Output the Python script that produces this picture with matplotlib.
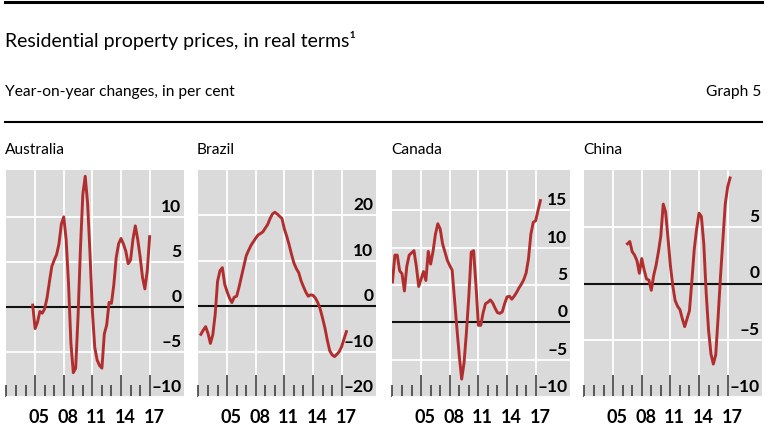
import numpy as np
import matplotlib
matplotlib.use("Agg")
import matplotlib.pyplot as plt
from matplotlib.lines import Line2D

plt.rcParams['font.family'] = ['Lato', 'DejaVu Sans']

# quarterly data, year-on-year changes in per cent
aus_start = 2004.75
aus = [0.2, -2.4, -1.7, -0.5, -0.7, -0.2, 1.0, 2.8, 4.5, 5.2, 5.8, 7.0, 9.2,
       10.0, 7.5, 2.6, -4.0, -7.3, -6.8, -1.0, 6.5, 12.5, 14.5, 11.5, 6.0,
       -0.5, -4.5, -5.9, -6.5, -6.8, -3.0, -2.0, 0.5, 0.4, 2.5, 5.5, 7.0, 7.6,
       7.0, 6.2, 4.8, 5.2, 7.5, 9.0, 7.5, 5.6, 3.3, 2.0, 4.0, 7.8]

bra_start = 2002.25
bra = [-6.2, -5.3, -4.5, -6.0, -8.2, -6.3, -1.8, 5.5, 7.8, 8.5, 4.8, 3.2,
       1.8, 0.8, 2.0, 2.2, 4.2, 6.5, 8.8, 11.1, 12.3, 13.4, 14.2, 15.0, 15.7,
       16.0, 16.4, 17.2, 18.0, 19.3, 20.3, 20.7, 20.3, 19.8, 19.3, 17.0, 15.4,
       13.5, 11.4, 9.5, 8.3, 7.4, 5.6, 4.3, 3.1, 2.2, 2.5, 2.4, 1.8, 0.8, -0.6,
       -2.6, -4.8, -7.5, -9.8, -10.7, -11.1, -10.6, -10.0, -8.9, -7.2, -5.6]

can_start = 2002.0
can = [5.4, 9.0, 9.0, 6.9, 6.5, 4.2, 7.5, 9.0, 9.3, 9.6, 7.5, 4.8, 5.8, 6.8,
       5.6, 9.5, 7.8, 9.5, 11.8, 13.2, 12.5, 10.5, 9.4, 8.3, 7.6, 7.0, 3.1,
       -0.8, -4.5, -7.6, -5.4, -1.3, 3.5, 9.4, 9.6, 4.9, -0.4, -0.4, 1.3, 2.5,
       2.7, 3.0, 2.6, 1.9, 1.3, 1.2, 1.4, 2.5, 3.4, 3.5, 3.1, 3.5, 4.0, 4.6,
       5.1, 5.7, 6.6, 8.5, 11.8, 13.4, 13.6, 15.0, 16.3]

chn_start = 2006.5
chn = [3.5, 3.7, 2.8, 2.5, 2.0, 0.9, 2.2, 1.2, 0.4, 0.3, -0.6, 0.7, 1.6, 2.8,
       4.2, 7.0, 6.3, 4.0, 1.6, -0.2, -1.5, -2.0, -2.3, -3.1, -3.8, -3.1, -2.4,
       0.2, 3.0, 4.8, 6.2, 5.9, 3.5, -0.8, -4.1, -6.2, -7.1, -6.3, -3.0, 0.6,
       3.8, 7.0, 8.5, 9.3]

panels = [
    ("Australia", aus_start, aus, [-10, -5, 0, 5, 10], ["–10", "–5", "0", "5", "10"], (-10, 15.2)),
    ("Brazil", bra_start, bra, [-20, -10, 0, 10, 20], ["–20", "–10", "0", "10", "20"], (-20, 30)),
    ("Canada", can_start, can, [-10, -5, 0, 5, 10, 15], ["–10", "–5", "0", "5", "10", "15"], (-10, 20.4)),
    ("China", chn_start, chn, [-10, -5, 0, 5], ["–10", "–5", "0", "5"], (-10, 10)),
]
year_labels = ["05", "08", "11", "14", "17"]
major_years = [2005, 2008, 2011, 2014, 2017]
minor_years = [y for y in range(2002, 2018) if y not in major_years]

red = '#b22e2e'
grey = '#dadada'

fig = plt.figure(figsize=(7.68, 4.32), dpi=100)

# header rules and titles
fig.add_artist(Line2D([0.0065, 0.992], [0.995, 0.995], color='black', lw=2.2))
fig.add_artist(Line2D([0.0065, 0.992], [0.718, 0.718], color='black', lw=1.5))
fig.text(0.0065, 0.907, "Residential property prices, in real terms¹", fontsize=14, va='center')
fig.text(0.0065, 0.787, "Year-on-year changes, in per cent", fontsize=11.2, va='center')
fig.text(0.992, 0.787, "Graph 5", fontsize=11.2, va='center', ha='right')

lefts = [6, 198, 392, 584]
for (name, start, vals, yt, ytl, ylim), left in zip(panels, lefts):
    ax = fig.add_axes([left / 768, 1 - 397 / 432, 178 / 768, 227 / 432])
    ax.set_facecolor(grey)
    for s in ax.spines.values():
        s.set_visible(False)
    x = start + 0.25 * np.arange(len(vals))
    ax.set_xlim(2001.95, 2020.6)
    ax.set_ylim(*ylim)
    ax.set_yticks(yt)
    ax.set_yticklabels([])
    ax.tick_params(axis='y', length=0)
    ax.set_xticks(major_years)
    ax.set_xticks(minor_years, minor=True)
    ax.set_xticklabels([])
    ax.tick_params(axis='x', which='major', direction='in', length=16, width=1.1, color='#333333')
    ax.tick_params(axis='x', which='minor', direction='in', length=8.5, width=1.1, color='#333333')
    ax.grid(True, which='major', color='white', lw=1.3)
    ax.set_axisbelow(True)
    ax.axhline(0, color='#111111', lw=1.5, zorder=2)
    ax.plot(x, vals, color=red, lw=2.1, zorder=3, solid_joinstyle='round')
    for v, lbl in zip(yt, ytl):
        ax.annotate(lbl, xy=(1, v), xycoords=('axes fraction', 'data'),
                    xytext=(-2, 1.5), textcoords='offset points',
                    ha='right', va='bottom', fontsize=12.5, fontweight='bold')
    for yr, lbl in zip(major_years, year_labels):
        ax.annotate(lbl, xy=(yr + 0.45, 0), xycoords=('data', 'axes fraction'),
                    xytext=(0, -15), textcoords='offset points',
                    ha='center', va='center', fontsize=13, fontweight='bold')
    fig.text((left - 1) / 768, 1 - 150 / 432, name, fontsize=11.2, va='center')

fig.savefig('out.png', dpi=100)
